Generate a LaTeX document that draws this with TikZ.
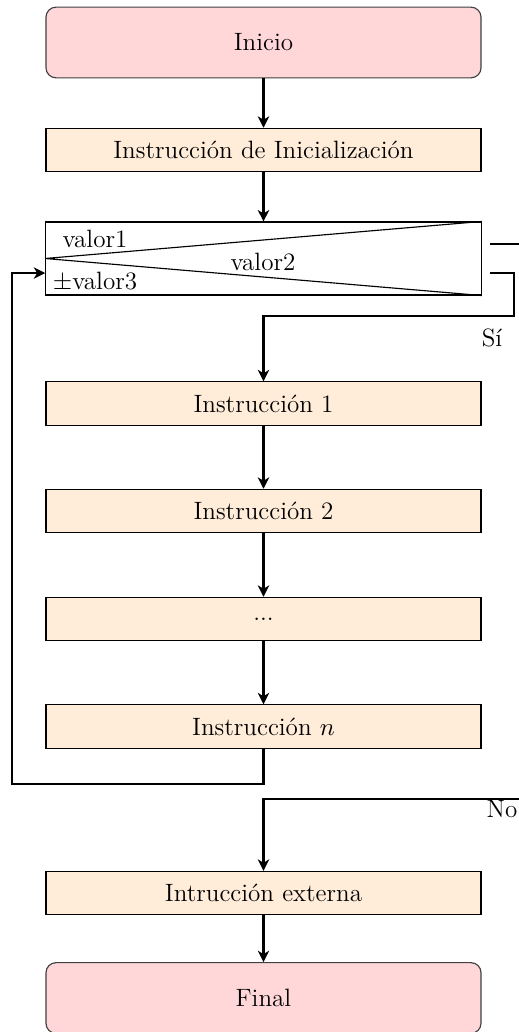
\documentclass[tikz,border=0pt]{standalone}
\usepackage{fontspec}
\usepackage{tikz}
\usetikzlibrary{arrows.meta,positioning,calc}
\definecolor{cTerm}{HTML}{FFD7D9}
\definecolor{cInst}{HTML}{FFECD9}
\tikzset{
  term/.style ={draw=black!75,fill=cTerm,rounded corners=4.4pt,line width=0.5pt,
                minimum width=190.8pt,minimum height=31pt,inner sep=0pt},
  inst/.style ={draw=black,fill=cInst,line width=0.5pt,
                minimum width=190.8pt,minimum height=19pt,inner sep=0pt},
  forb/.style ={draw=black,line width=0.5pt,minimum width=191pt,minimum height=32pt,inner sep=0pt},
  flow/.style ={-{Stealth[length=5pt,width=5pt,inset=1.5pt]},line width=0.9pt},
  wire/.style ={line width=0.9pt},
  lbl/.style  ={inner sep=0pt},
}

\begin{document}
\begin{tikzpicture}[x=0.4386pt,y=0.4386pt,font=\fontsize{11}{13.2}\selectfont]
\useasboundingbox (0,0) rectangle (519,-1032);
% main column
\node[term] (start) at (263.5,-42.5) {Inicio};
\node[inst] (init)  at (263.5,-150)  {Instrucción de Inicialización};
\node[forb] (loop)  at (263.5,-258.5)  {};
\node[inst] (i1)    at (263.5,-403.5) {Instrucción 1};
\node[inst] (i2)    at (263.5,-511)   {Instrucción 2};
\node[inst] (idots) at (263.5,-619)   {...};
\node[inst] (in)    at (263.5,-726.5) {Instrucción $n$};
\node[inst] (ext)   at (263.5,-893)   {Intrucción externa};
\node[term] (fin)   at (263.5,-998)   {Final};

% loop header
\draw[line width=0.5pt] (loop.north east) -- (loop.west) -- (loop.south east);
\node[lbl] (v1) at (95,-239)  {valor1};
\node[lbl] (v2) at (263,-262) {valor2};
\node[lbl] (v3) at (95,-282)  {$\pm$valor3};

\draw[flow] (start) -- (init);
\draw[flow] (init) -- (loop);
\draw[flow] (i1) -- (i2);
\draw[flow] (i2) -- (idots);
\draw[flow] (idots) -- (in);
\draw[flow] (ext) -- (fin);

% branches
\coordinate (exitA) at (490,-244);
\coordinate (exitB) at (519,-244);
\coordinate (yesA)  at (490,-273);
\coordinate (yesB)  at (514,-316);
\coordinate (back)  at (12,-784);
\coordinate (noA)   at (519,-799);
\draw[wire] (exitA) -- (exitB);
\draw[flow] (yesA) -| (yesB) -| (i1.north);
\draw[flow] (in.south) |- (back) |- ([yshift=-6.4pt]loop.west);
\draw[flow] (noA) -| (ext.north);

\node[lbl] (yes) at (492,-338) {Sí};
\node[lbl] (no)  at (502,-809) {No};
\end{tikzpicture}
\end{document}
